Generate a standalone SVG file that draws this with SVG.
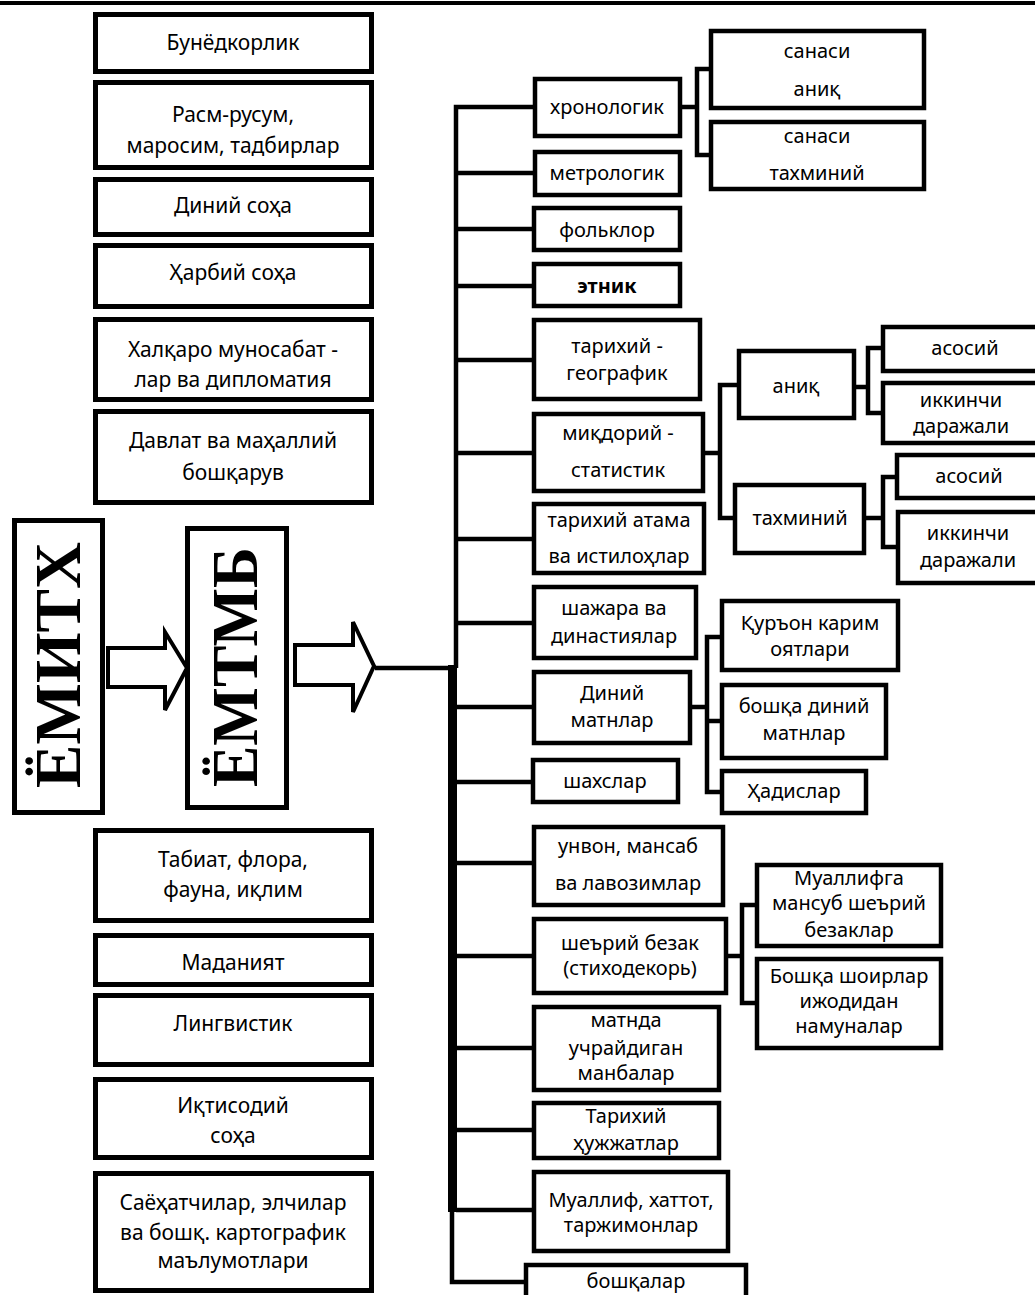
<svg xmlns="http://www.w3.org/2000/svg" width="1035" height="1295" viewBox="0 0 1035 1295">
<style>
.lb{fill:#fff;stroke:#000;stroke-width:5}
.rb{fill:#fff;stroke:#000;stroke-width:4.5}
.big{fill:#fff;stroke:#000;stroke-width:5}
.ln{fill:none;stroke:#000;stroke-width:4.5;stroke-linejoin:miter}
.arr{fill:#fff;stroke:#000;stroke-width:4;stroke-linejoin:miter}
text{font-family:"Noto Sans","DejaVu Sans",sans-serif;fill:#000;text-anchor:middle}
.lt{font-size:21px}
.rt{font-size:20px}
.bt{font-family:"Liberation Serif","Times New Roman",serif;font-weight:bold;font-size:66px}
</style>
<rect x="0" y="1" width="1035" height="4" fill="#000"/>

<g id="connectors">
  <!-- main line from arrow -->
  <path class="ln" d="M375,668 H455"/>
  <!-- trunk -->
  <path class="ln" d="M533,107 H456 V668"/>
  <rect x="448" y="665" width="9" height="547" fill="#000"/>
  <path class="ln" d="M452,1208 V1282 H525"/>
  <!-- branches -->
  <path class="ln" d="M456,173 H533 M456,229 H532 M456,286 H532 M456,360 H532 M456,453 H532 M456,539 H532 M456,623 H532 M456,707 H532 M456,782 H531 M456,863 H532 M456,956 H532 M456,1048 H532 M456,1130 H532 M456,1210 H532"/>
  <!-- хронологик bracket -->
  <path class="ln" d="M682,107 H697 M709,69 H697 V155 H709"/>
  <!-- миқдорий bracket -->
  <path class="ln" d="M705,453 H720 M737,385 H720 V518 H733"/>
  <!-- аниқ bracket -->
  <path class="ln" d="M856,387 H868 M881,348 H868 V413 H881"/>
  <!-- тахминий bracket -->
  <path class="ln" d="M866,518 H883 M895,477 H883 V547 H896"/>
  <!-- Диний bracket -->
  <path class="ln" d="M692,707 H707 M720,637 H707 V792 H720 M707,721 H720"/>
  <!-- шеърий bracket -->
  <path class="ln" d="M728,956 H742 M755,905 H742 V1003 H755"/>
</g>

<g id="arrows">
  <path class="arr" d="M108,648 H165 V632 L187,668 L165,710 V687 H108 Z"/>
  <path class="arr" d="M295,645 H353 V622 L374,666 L353,712 V685 H295 Z"/>
</g>

<!-- left column -->
<g id="n-bunyodkorlik"><rect class="lb" x="95.5" y="14.5" width="276" height="57"/><text class="lt" x="233" y="50">Бунёдкорлик</text></g>
<g id="n-rasm"><rect class="lb" x="95.5" y="82.5" width="276" height="85"/><text class="lt" x="233" y="122">Расм-русум,</text><text class="lt" x="233" y="153">маросим, тадбирлар</text></g>
<g id="n-diniy-soha"><rect class="lb" x="95.5" y="179.5" width="276" height="55"/><text class="lt" x="233" y="213">Диний соҳа</text></g>
<g id="n-harbiy"><rect class="lb" x="95.5" y="245.5" width="276" height="61"/><text class="lt" x="233" y="280">Ҳарбий соҳа</text></g>
<g id="n-xalqaro"><rect class="lb" x="95.5" y="319.5" width="276" height="80"/><text class="lt" x="233" y="357">Халқаро муносабат -</text><text class="lt" x="233" y="387">лар ва дипломатия</text></g>
<g id="n-davlat"><rect class="lb" x="95.5" y="411.5" width="276" height="91"/><text class="lt" x="233" y="448">Давлат ва маҳаллий</text><text class="lt" x="233" y="480">бошқарув</text></g>
<g id="n-tabiat"><rect class="lb" x="95.5" y="830.5" width="276" height="90"/><text class="lt" x="233" y="867">Табиат, флора,</text><text class="lt" x="233" y="897">фауна, иқлим</text></g>
<g id="n-madaniyat"><rect class="lb" x="95.5" y="935.5" width="276" height="49"/><text class="lt" x="233" y="970">Маданият</text></g>
<g id="n-lingvistik"><rect class="lb" x="95.5" y="995.5" width="276" height="69"/><text class="lt" x="233" y="1031">Лингвистик</text></g>
<g id="n-iqtisodiy"><rect class="lb" x="95.5" y="1079.5" width="276" height="78"/><text class="lt" x="233" y="1113">Иқтисодий</text><text class="lt" x="233" y="1143">соҳа</text></g>
<g id="n-sayohat"><rect class="lb" x="95.5" y="1173.5" width="276" height="117"/><text class="lt" x="233" y="1210">Саёҳатчилар, элчилар</text><text class="lt" x="233" y="1240">ва бошқ. картографик</text><text class="lt" x="233" y="1268">маълумотлари</text></g>

<!-- vertical title boxes -->
<g id="n-emitx"><rect class="big" x="14.5" y="520.5" width="88" height="292"/><text class="bt" transform="translate(80,665) rotate(-90)" x="0" y="0" textLength="246" lengthAdjust="spacingAndGlyphs">ЁМИТХ</text></g>
<g id="n-emtmb"><rect class="big" x="187.5" y="528.5" width="99" height="279"/><text class="bt" transform="translate(257,667) rotate(-90)" x="0" y="0" textLength="240" lengthAdjust="spacingAndGlyphs">ЁМТМБ</text></g>

<!-- right main column -->
<g id="n-xronologik"><rect class="rb" x="535" y="79" width="145" height="57"/><text class="rt" x="607" y="114">хронологик</text></g>
<g id="n-metrologik"><rect class="rb" x="535" y="152" width="145" height="43"/><text class="rt" x="607" y="180">метрологик</text></g>
<g id="n-folklor"><rect class="rb" x="534" y="208" width="146" height="42"/><text class="rt" x="607" y="237">фольклор</text></g>
<g id="n-etnik"><rect class="rb" x="534" y="264" width="146" height="42"/><text class="rt" x="607" y="293" font-weight="bold">этник</text></g>
<g id="n-tarixiy-geo"><rect class="rb" x="534" y="320" width="166" height="79"/><text class="rt" x="617" y="353">тарихий -</text><text class="rt" x="617" y="380">географик</text></g>
<g id="n-miqdoriy"><rect class="rb" x="534" y="414" width="169" height="77"/><text class="rt" x="618" y="440">миқдорий -</text><text class="rt" x="618" y="477">статистик</text></g>
<g id="n-atama"><rect class="rb" x="534" y="504" width="170" height="69"/><text class="rt" x="619" y="527">тарихий атама</text><text class="rt" x="619" y="563">ва истилоҳлар</text></g>
<g id="n-shajara"><rect class="rb" x="534" y="587" width="162" height="71"/><text class="rt" x="614" y="615">шажара  ва</text><text class="rt" x="614" y="643">династиялар</text></g>
<g id="n-diniy-matn"><rect class="rb" x="534" y="672" width="156" height="71"/><text class="rt" x="612" y="700">Диний</text><text class="rt" x="612" y="727">матнлар</text></g>
<g id="n-shaxslar"><rect class="rb" x="533" y="760" width="145" height="42"/><text class="rt" x="605" y="788">шахслар</text></g>
<g id="n-unvon"><rect class="rb" x="534" y="827" width="189" height="78"/><text class="rt" x="628" y="853">унвон, мансаб</text><text class="rt" x="628" y="890">ва лавозимлар</text></g>
<g id="n-sheriy"><rect class="rb" x="534" y="919" width="192" height="74"/><text class="rt" x="630" y="950">шеърий безак</text><text class="rt" x="630" y="975">(стиходекорь)</text></g>
<g id="n-matnda"><rect class="rb" x="534" y="1007" width="185" height="83"/><text class="rt" x="626" y="1027">матнда</text><text class="rt" x="626" y="1055">учрайдиган</text><text class="rt" x="626" y="1080">манбалар</text></g>
<g id="n-hujjat"><rect class="rb" x="534" y="1103" width="185" height="55"/><text class="rt" x="626" y="1123">Тарихий</text><text class="rt" x="626" y="1150">ҳужжатлар</text></g>
<g id="n-muallif"><rect class="rb" x="534" y="1172" width="194" height="79"/><text class="rt" x="631" y="1207">Муаллиф, хаттот,</text><text class="rt" x="631" y="1232">таржимонлар</text></g>
<g id="n-boshqalar"><rect class="rb" x="526" y="1265" width="220" height="40"/><text class="rt" x="636" y="1288">бошқалар</text></g>

<!-- sub nodes -->
<g id="n-sanasi-aniq"><rect class="rb" x="711" y="31" width="213" height="77"/><text class="rt" x="817" y="58">санаси</text><text class="rt" x="817" y="96">аниқ</text></g>
<g id="n-sanasi-taxminiy"><rect class="rb" x="711" y="122" width="213" height="67"/><text class="rt" x="817" y="143">санаси</text><text class="rt" x="817" y="180">тахминий</text></g>
<g id="n-aniq"><rect class="rb" x="739" y="351" width="115" height="67"/><text class="rt" x="796" y="393">аниқ</text></g>
<g id="n-taxminiy"><rect class="rb" x="735" y="485" width="129" height="68"/><text class="rt" x="800" y="525">тахминий</text></g>
<g id="n-asosiy1"><rect class="rb" x="883" y="327" width="170" height="44"/><text class="rt" x="965" y="355">асосий</text></g>
<g id="n-ikkinchi1"><rect class="rb" x="883" y="383" width="170" height="60"/><text class="rt" x="961" y="407">иккинчи</text><text class="rt" x="961" y="433">даражали</text></g>
<g id="n-asosiy2"><rect class="rb" x="897" y="455" width="160" height="43"/><text class="rt" x="969" y="483">асосий</text></g>
<g id="n-ikkinchi2"><rect class="rb" x="898" y="512" width="160" height="71"/><text class="rt" x="968" y="540">иккинчи</text><text class="rt" x="968" y="567">даражали</text></g>
<g id="n-quron"><rect class="rb" x="722" y="601" width="176" height="69"/><text class="rt" x="810" y="630">Қуръон карим</text><text class="rt" x="810" y="656">оятлари</text></g>
<g id="n-boshqa-diniy"><rect class="rb" x="722" y="685" width="164" height="73"/><text class="rt" x="804" y="713">бошқа диний</text><text class="rt" x="804" y="740">матнлар</text></g>
<g id="n-hadislar"><rect class="rb" x="722" y="771" width="144" height="42"/><text class="rt" x="794" y="798">Ҳадислар</text></g>
<g id="n-muallifga"><rect class="rb" x="757" y="865" width="184" height="81"/><text class="rt" x="849" y="885">Муаллифга</text><text class="rt" x="849" y="910">мансуб шеърий</text><text class="rt" x="849" y="937">безаклар</text></g>
<g id="n-boshqa-shoir"><rect class="rb" x="757" y="959" width="184" height="89"/><text class="rt" x="849" y="983">Бошқа шоирлар</text><text class="rt" x="849" y="1008">ижодидан</text><text class="rt" x="849" y="1033">намуналар</text></g>
</svg>
